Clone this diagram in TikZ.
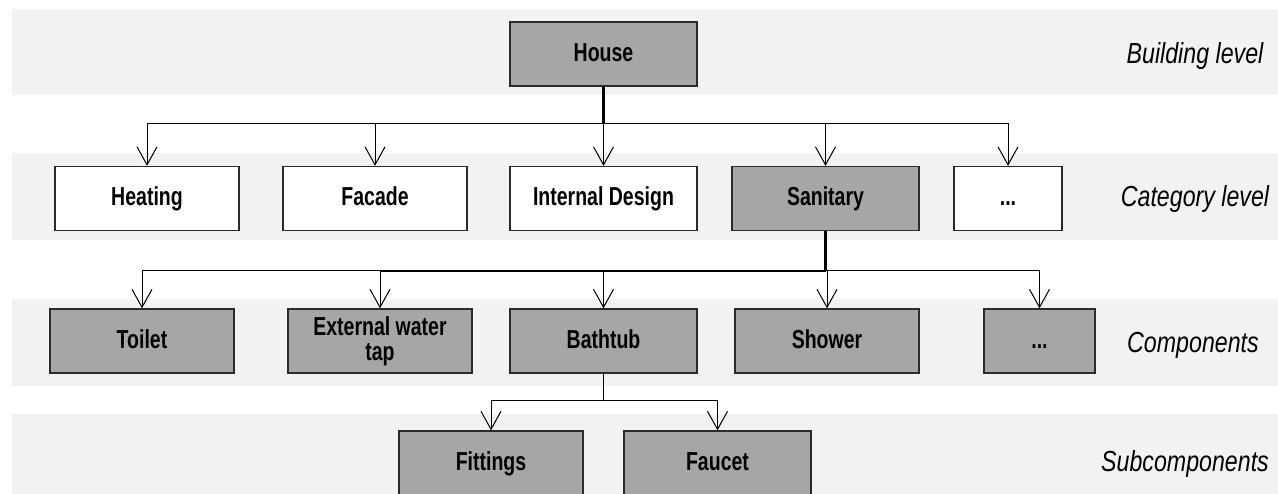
\documentclass[tikz,border=0pt]{standalone}
\usepackage{fontspec}
\newfontfamily\vfont[FakeStretch=0.75]{Liberation Sans}
\newfontfamily\lfont[FakeStretch=0.8]{Liberation Sans}
\usetikzlibrary{arrows.meta}
\definecolor{bandgray}{HTML}{F2F2F2}
\definecolor{boxgray}{HTML}{A6A6A6}
\definecolor{edgegray}{HTML}{2B2B2B}
\begin{document}
\begin{tikzpicture}[x=1pt,y=-1pt,
  bandfill/.style={fill=bandgray,draw=none},
  basebox/.style={draw=edgegray,line width=1.3pt,minimum height=64pt,inner sep=0pt,
    font=\vfont\bfseries\fontsize{26}{27}\selectfont,align=center},
  onel/.style={text height=19pt,text depth=4.4pt},
  gbox/.style={basebox,fill=boxgray},
  wbox/.style={basebox,fill=white},
  lvl/.style={font=\lfont\itshape\fontsize{29}{30}\selectfont,inner sep=0pt,
    text height=21pt,text depth=6pt},
  conn/.style={line width=1pt,-{Straight Barb[length=18pt,width=20pt,line width=1pt]}},
  thickline/.style={line width=2.7pt},
  midline/.style={line width=2pt}]
\useasboundingbox (0,0) rectangle (1278,494);
% bands
\fill[bandfill] (12,9) rectangle (1278,95.5);
\fill[bandfill] (12,153) rectangle (1278,240.5);
\fill[bandfill] (12,299) rectangle (1278,386);
\fill[bandfill] (12,414) rectangle (1278,494);
% level labels
\node[lvl] (l1) at (1195,56.5) {Building level};
\node[lvl] (l2) at (1195,199) {Category level};
\node[lvl] (l3) at (1193,345) {Components};
\node[lvl] (l4) at (1185,464) {Subcomponents};
% building
\node[gbox,onel,minimum width=187pt] (house) at (603.5,54) {House};
% categories
\node[wbox,onel,minimum width=184pt] (heating) at (147,198.5) {Heating};
\node[wbox,onel,minimum width=184pt] (facade) at (375,198.5) {Facade};
\node[wbox,onel,minimum width=187pt] (internal) at (603.5,198.5) {Internal Design};
\node[gbox,onel,minimum width=187pt] (sanitary) at (825.5,198.5) {Sanitary};
\node[wbox,onel,minimum width=108pt] (catdots) at (1008,198.5) {...};
% components
\node[gbox,onel,minimum width=184pt] (toilet) at (142,341) {Toilet};
\node[gbox,minimum width=184pt] (ewt) at (380,341) {External water\\[-2pt]tap};
\node[gbox,onel,minimum width=187pt] (bathtub) at (603.5,341) {Bathtub};
\node[gbox,onel,minimum width=184pt] (shower) at (827,341) {Shower};
\node[gbox,onel,minimum width=111pt] (compdots) at (1039.5,341) {...};
% subcomponents
\node[gbox,onel,minimum width=184pt] (fittings) at (491,463) {Fittings};
\node[gbox,onel,minimum width=187pt] (faucet) at (717.5,463) {Faucet};
% bus points
\coordinate (b1) at (603.5,124);
\coordinate (b2) at (825.5,271);
\coordinate (b3) at (603.5,401);
% building -> categories
\draw[thickline] (house.south) -- (b1);
\foreach \n in {heating,facade,internal,sanitary,catdots}
  \draw[conn] (b1) -| (\n.north);
% sanitary -> components
\draw[thickline] (sanitary.south) -- (b2);
\draw[midline] (b2) -- (ewt.north |- b2);
\foreach \n in {toilet,ewt,bathtub,shower,compdots}
  \draw[conn] (b2) -| (\n.north);
% bathtub -> subcomponents
\draw[line width=1.3pt] (bathtub.south) -- (b3);
\foreach \n in {fittings,faucet}
  \draw[conn] (b3) -| (\n.north);
\end{tikzpicture}
\end{document}
